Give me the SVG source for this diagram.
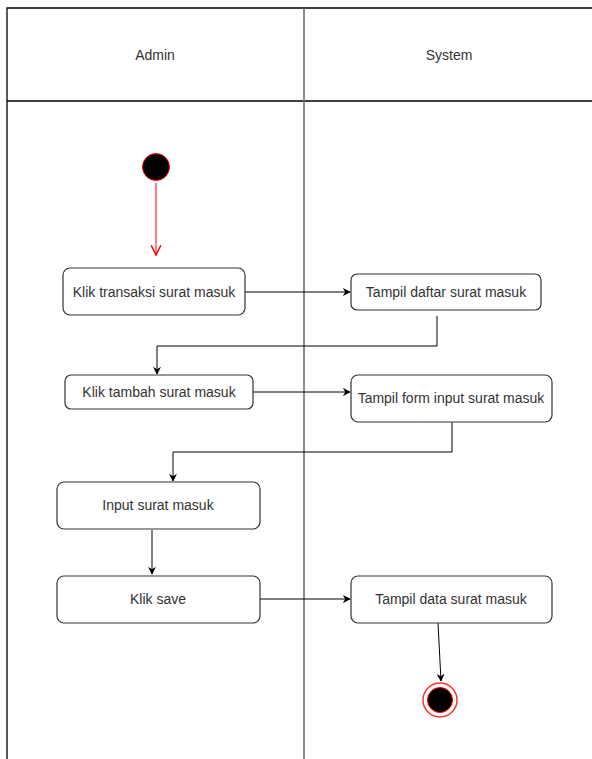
<svg xmlns="http://www.w3.org/2000/svg" width="592" height="759" viewBox="0 0 592 759">
<style>
.lane{stroke:#000;stroke-width:1.3;fill:none}
.div{stroke:#666;stroke-width:1.5;fill:none}
.box{fill:#fff;stroke:#333;stroke-width:1.2}
.t{font-family:"Liberation Sans",Arial,sans-serif;font-size:14px;fill:#333;text-anchor:middle;dominant-baseline:central}
.c{stroke:#000;stroke-width:1;fill:none}
</style>
<defs>
<marker id="ah" viewBox="0 0 10 10" refX="9" refY="5" markerWidth="8" markerHeight="8" markerUnits="userSpaceOnUse" orient="auto">
<path d="M0,0 L10,5 L0,10 L3,5 Z" fill="#000"/>
</marker>
<marker id="ro" viewBox="0 0 10 10" refX="9" refY="5" markerWidth="12" markerHeight="12" markerUnits="userSpaceOnUse" orient="auto">
<path d="M1,1 L9,5 L1,9" fill="none" stroke="#f00" stroke-width="1.2"/>
</marker>
</defs>
<rect width="592" height="759" fill="#fff"/>
<g id="lanes">
<path class="lane" d="M7,759 V8 H592"/>
<path class="lane" d="M7,101 H592"/>
<path class="div" d="M304,8 V759"/>
<text class="t" x="155" y="55">Admin</text>
<text class="t" x="449" y="55">System</text>
</g>
<g id="connectors">
<path d="M156,183 V255" stroke="#f00" stroke-width="1" fill="none" marker-end="url(#ro)"/>
<path class="c" d="M245,292 H350" marker-end="url(#ah)"/>
<path class="c" d="M437,316 V346 H157 V374" marker-end="url(#ah)"/>
<path class="c" d="M253,392 H350" marker-end="url(#ah)"/>
<path class="c" d="M452,422 V452 H173 V481" marker-end="url(#ah)"/>
<path class="c" d="M152,530 V574" marker-end="url(#ah)"/>
<path class="c" d="M260,599 H350" marker-end="url(#ah)"/>
<path class="c" d="M438,623 L441,681" marker-end="url(#ah)"/>
</g>
<g id="start"><circle cx="156" cy="167" r="13.5" fill="#000" stroke="#f00" stroke-width="1"/></g>
<g id="n1"><rect class="box" x="63" y="268" width="182" height="47" rx="7"/><text class="t" x="154" y="292">Klik transaksi surat masuk</text></g>
<g id="n2"><rect class="box" x="351" y="274" width="190" height="36" rx="6"/><text class="t" x="446" y="292">Tampil daftar surat masuk</text></g>
<g id="n3"><rect class="box" x="65" y="375" width="188" height="34" rx="6"/><text class="t" x="159" y="392">Klik tambah surat masuk</text></g>
<g id="n4"><rect class="box" x="351" y="375" width="201" height="47" rx="7"/><text class="t" x="451" y="398">Tampil form input surat masuk</text></g>
<g id="n5"><rect class="box" x="57" y="482" width="203" height="47" rx="7"/><text class="t" x="158" y="505">Input surat masuk</text></g>
<g id="n6"><rect class="box" x="57" y="576" width="203" height="47" rx="7"/><text class="t" x="158" y="599">Klik save</text></g>
<g id="n7"><rect class="box" x="351" y="576" width="201" height="47" rx="7"/><text class="t" x="451" y="599">Tampil data surat masuk</text></g>
<g id="end"><circle cx="440" cy="700" r="17" fill="#fff" stroke="#f33" stroke-width="1.5"/><circle cx="440" cy="700" r="12.5" fill="#000" stroke="#f00" stroke-width="1"/></g>
</svg>
